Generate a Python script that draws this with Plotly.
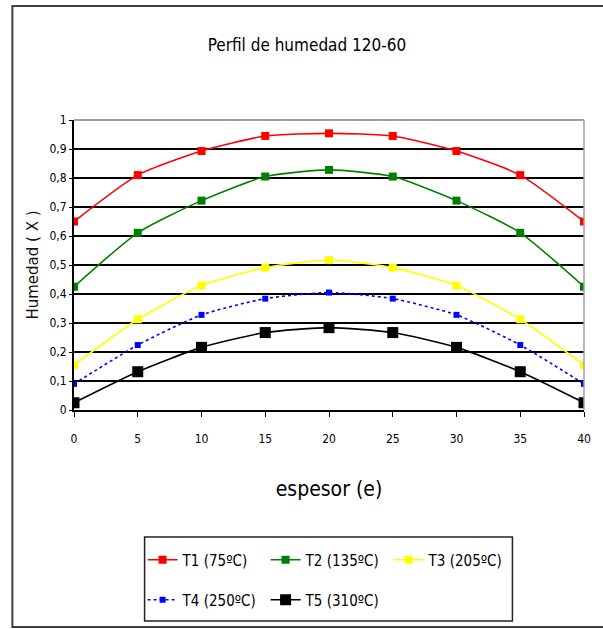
import plotly.graph_objects as go

espesor = [0, 5, 10, 15, 20, 25, 30, 35, 40]
t1 = [0.65, 0.81, 0.893, 0.945, 0.954, 0.945, 0.893, 0.81, 0.65]
t2 = [0.425, 0.611, 0.722, 0.805, 0.828, 0.805, 0.722, 0.611, 0.425]
t3 = [0.155, 0.313, 0.429, 0.491, 0.517, 0.491, 0.429, 0.313, 0.155]
t4 = [0.09, 0.224, 0.328, 0.384, 0.405, 0.384, 0.328, 0.224, 0.09]
t5 = [0.025, 0.132, 0.216, 0.267, 0.284, 0.267, 0.216, 0.132, 0.025]
names = ["T1 (75ºC)", "T2 (135ºC)", "T3 (205ºC)", "T4 (250ºC)", "T5 (310ºC)"]
y_ticks = [0, 0.1, 0.2, 0.3, 0.4, 0.5, 0.6, 0.7, 0.8, 0.9, 1]
y_ticktext = ["0", "0,1", "0,2", "0,3", "0,4", "0,5", "0,6", "0,7", "0,8", "0,9", "1"]

FONT = "DejaVu Sans Condensed, Liberation Sans, sans-serif"

series = [t1, t2, t3, t4, t5]
colors = ["#ff0000", "#008000", "#ffff00", "#0000ff", "#000000"]
dashes = ["solid", "solid", "solid", "dot", "solid"]
msizes = [8, 8, 8, 6, 11]
legend_ids = ["legend", "legend", "legend", "legend2", "legend2"]

# pixel geometry helpers (plot area: x 74..587, y 120..410)
L, R, T, B = 74, 587, 120, 410
def px(xp):
    return (xp - L) / (R - L)
def py(yp):
    return (B - yp) / (B - T)

fig = go.Figure()
for vals, name, c, d, ms, lg in zip(series, names, colors, dashes, msizes, legend_ids):
    fig.add_trace(go.Scatter(
        x=espesor, y=vals, name=name, mode="lines+markers", legend=lg,
        line=dict(color=c, width=1.6, dash=d, shape="spline", smoothing=0.6),
        marker=dict(symbol="square", size=ms, color=c),
    ))

leg_common = dict(orientation="h", xanchor="left", yanchor="middle",
                  borderwidth=0, bgcolor="rgba(0,0,0,0)",
                  font=dict(family=FONT, size=15, color="black"),
                  entrywidth=78, entrywidthmode="pixels")

fig.update_layout(
    width=603, height=629,
    margin=dict(l=L, r=603 - R, t=T, b=629 - B),
    paper_bgcolor="white", plot_bgcolor="white",
    font=dict(family=FONT, color="black", size=12),
    title=dict(text="Perfil de humedad 120-60", x=0.509, xanchor="center",
               y=1 - 45 / 629, yanchor="middle",
               font=dict(family=FONT, size=17, color="black")),
    showlegend=True,
    legend=dict(x=px(143), y=py(560), **leg_common),
    legend2=dict(x=px(143), y=py(600), **leg_common),
    xaxis=dict(range=[0, 40], tickvals=espesor, showgrid=False, zeroline=False,
               showline=True, linecolor="black", linewidth=2,
               ticks="outside", ticklen=5, tickcolor="black", tickwidth=1,
               ticklabelstandoff=12,
               tickfont=dict(family=FONT, size=12, color="black"),
               title=dict(text="espesor (e)", standoff=36,
                          font=dict(family=FONT, size=21, color="black"))),
    yaxis=dict(range=[0, 1], tickvals=y_ticks, ticktext=y_ticktext,
               showgrid=True, gridcolor="black", gridwidth=2, zeroline=False,
               showline=True, linecolor="black", linewidth=2,
               ticks="outside", ticklen=3, tickcolor="black",
               tickfont=dict(family=FONT, size=12, color="black"),
               title=dict(text="Humedad ( X )", standoff=7,
                          font=dict(family="DejaVu Sans, sans-serif", size=15, color="#111111"))),
)

# gray top and right plot border
fig.add_shape(type="line", xref="paper", yref="paper", x0=0, x1=1, y0=1, y1=1,
              line=dict(color="#a0a0a0", width=2), layer="above")
fig.add_shape(type="line", xref="paper", yref="paper", x0=1, x1=1, y0=0, y1=1,
              line=dict(color="#a0a0a0", width=1.5), layer="above")
# outer chart frame (left, top, bottom)
fig.add_shape(type="rect", xref="paper", yref="paper",
              x0=px(12), x1=px(615), y0=py(627), y1=py(6),
              line=dict(color="#404040", width=2), layer="below")
# legend box
fig.add_shape(type="rect", xref="paper", yref="paper",
              x0=px(145), x1=px(515), y0=py(621), y1=py(537),
              line=dict(color="#222222", width=1.5), layer="below")

fig.write_html("out.html", config={"displayModeBar": False},
               post_script="document.body.style.margin='0';")
